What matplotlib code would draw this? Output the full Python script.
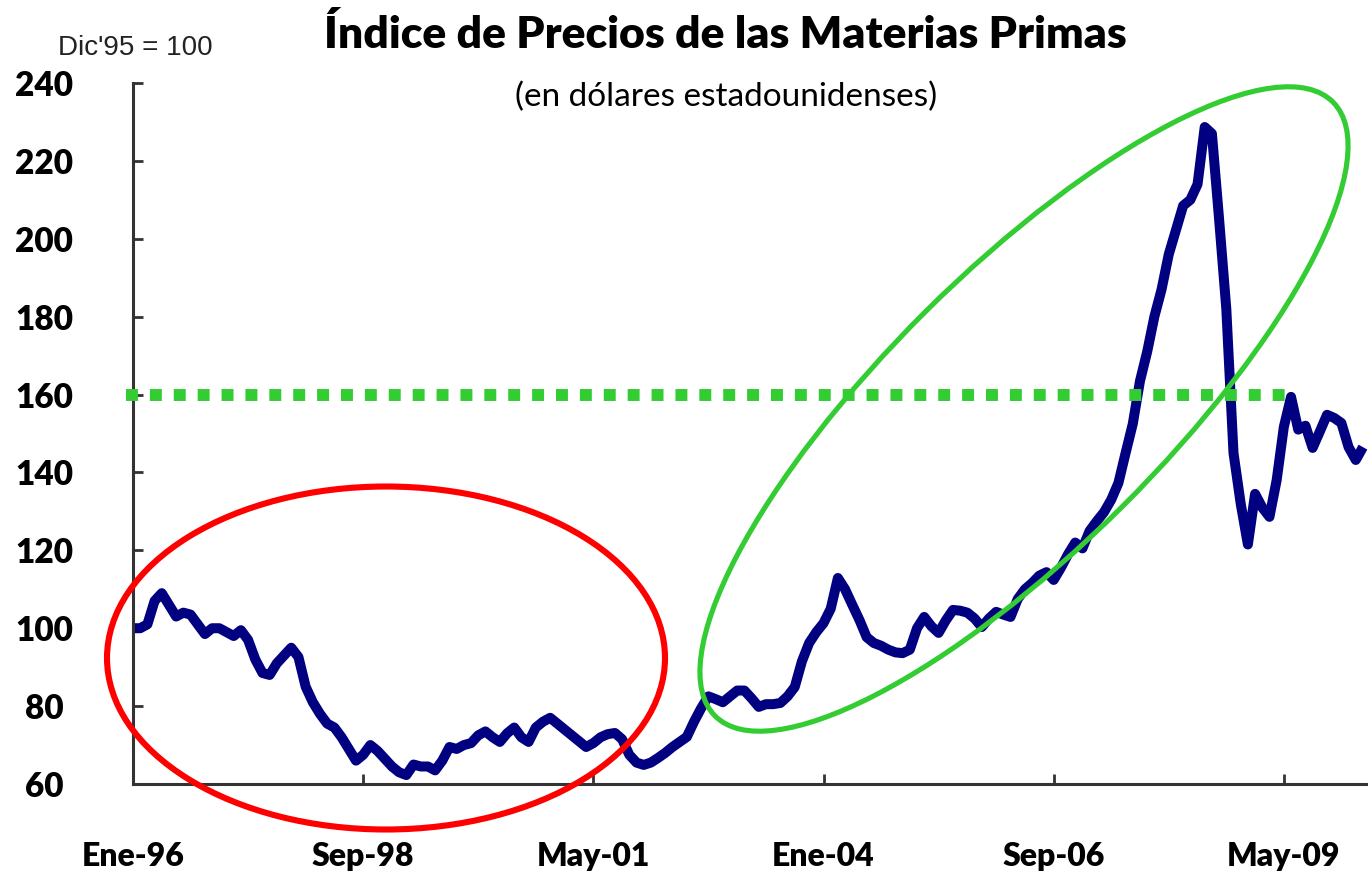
import matplotlib
matplotlib.use('Agg')
import matplotlib.pyplot as plt
from matplotlib.patches import Ellipse

# monthly index, Dic'95 = 100, from Ene-96 onwards
index_values = [
    100, 100, 101, 107, 109, 106, 103, 104, 103.5, 101,
    98.5, 100, 100, 99, 98, 99.5, 97, 92, 88.5, 88,
    91, 93, 95, 92.6, 85, 81, 78, 75.5, 74.5, 72,
    69, 66, 67.5, 70, 68.5, 66.5, 64.5, 63, 62.3, 65,
    64.5, 64.5, 63.5, 66, 69.5, 69, 70, 70.5, 72.5, 73.5,
    72, 70.8, 73, 74.5, 72, 70.8, 74.5, 76, 77, 75.5,
    74, 72.5, 71, 69.5, 70.5, 72, 72.8, 73.1, 71.5, 67.5,
    65.5, 64.9, 65.5, 66.7, 68, 69.5, 70.8, 72.1, 76, 79.5,
    82.5, 81.8, 81, 82.5, 84, 84, 82, 79.8, 80.5, 80.5,
    80.8, 82.5, 84.9, 91.5, 96.2, 99, 101.3, 105, 112.9, 110,
    106, 102.1, 97.7, 96.2, 95.5, 94.5, 93.8, 93.6, 94.5, 100,
    102.9, 100.5, 98.8, 102, 104.7, 104.5, 104, 102.5, 100.3, 102.5,
    104.2, 103.5, 102.9, 107.5, 110, 111.6, 113.5, 114.4, 112.4, 115.5,
    119, 122, 120.5, 125, 127.5, 129.8, 133, 137.3, 145, 152.5,
    163.5, 171, 180, 187, 196, 202.3, 208.5, 210, 214, 228.7,
    227, 205, 182, 145, 132, 121.5, 134.5, 131, 128.6, 138,
    151.7, 159.4, 151, 152, 146.3, 150.5, 154.8, 154, 152.7, 146.5,
    143.2, 146.5,
]
months = list(range(len(index_values)))

tick_months = [0, 32, 64, 96, 128, 160]
tick_labels = ['Ene-96', 'Sep-98', 'May-01', 'Ene-04', 'Sep-06', 'May-09']
y_ticks = [60, 80, 100, 120, 140, 160, 180, 200, 220, 240]

ref_level = 160
ref_span = (-1, 161)   # months covered by the dotted line

NAVY = '#000080'
GREEN = '#33cc33'
RED = '#ff0000'
FONT = 'Lato'

fig = plt.figure(figsize=(13.68, 8.85), dpi=100)
ax = fig.add_axes([133 / 1368, 101 / 885, 1235 / 1368, 701 / 885])

ax.plot(months, index_values, color=NAVY, lw=7.2, solid_joinstyle='round',
        solid_capstyle='butt', zorder=2)
ax.plot(ref_span, [ref_level, ref_level], color=GREEN, lw=8.6,
        dashes=(1, 1), dash_capstyle='butt', clip_on=False, zorder=3)

ax.set_xlim(0, 171.7)
ax.set_ylim(60, 240)
ax.set_xticks(tick_months)
ax.set_xticklabels(tick_labels)
ax.set_yticks(y_ticks)

for side in ('top', 'right'):
    ax.spines[side].set_visible(False)
for side in ('left', 'bottom'):
    ax.spines[side].set_color('#333333')
    ax.spines[side].set_linewidth(2.2)

ax.tick_params(axis='both', direction='in', length=7, width=2, color='#333333')
ax.tick_params(axis='y', pad=64)
ax.tick_params(axis='x', pad=42)
for lab in ax.get_yticklabels():
    lab.set_ha('center')
    lab.set_fontsize(24)
for lab in ax.get_xticklabels():
    lab.set_fontsize(23)
for lab in ax.get_xticklabels() + ax.get_yticklabels():
    lab.set_fontfamily(FONT)
    lab.set_fontweight('heavy')
    lab.set_color('black')

# annotation ellipses, placed in inches on the figure
inch = fig.dpi_scale_trans
fig.add_artist(Ellipse((3.86, 2.27), 5.58, 3.43, angle=0, transform=inch,
                       fill=False, edgecolor=RED, lw=4.4, zorder=5))
fig.add_artist(Ellipse((10.24, 4.76), 8.71, 2.77, angle=44.8, transform=inch,
                       fill=False, edgecolor=GREEN, lw=3.7, zorder=5))

fig.text(725 / 1368, 1 - 35 / 885, 'Índice de Precios de las Materias Primas',
         ha='center', va='center', fontsize=32, fontweight='heavy', family=FONT)
fig.text(726 / 1368, 1 - 97 / 885, '(en dólares estadounidenses)',
         ha='center', va='center', fontsize=24, family=FONT)
fig.text(58 / 1368, 1 - 48 / 885, "Dic'95 = 100", ha='left', va='center',
         fontsize=20, family='Liberation Sans', color='#222222')

fig.savefig('out.png', dpi=100)
